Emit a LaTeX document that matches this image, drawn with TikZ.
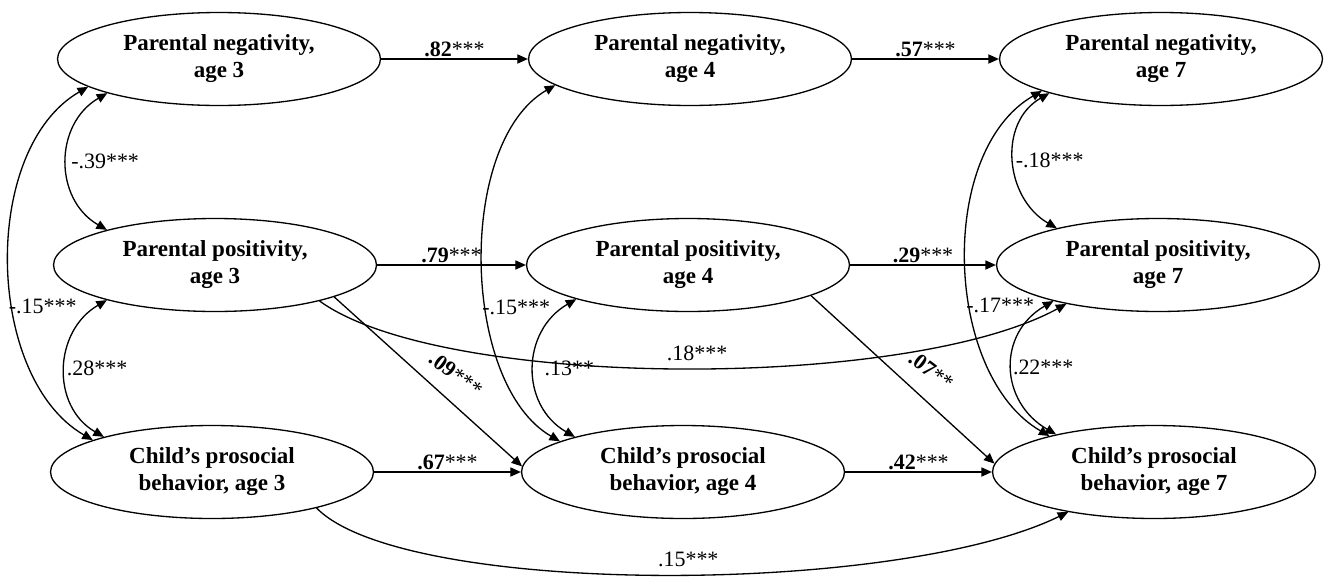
\documentclass[tikz,border=0pt]{standalone}
\usepackage{fontspec}
\setmainfont{Liberation Serif}
\usetikzlibrary{arrows.meta,shapes.geometric}
\begin{document}
\begin{tikzpicture}[x=0.02cm,y=-0.02cm,
  var/.style={draw,ellipse,line width=0.75pt,minimum width=6.46cm,minimum height=1.86cm,inner sep=0pt,align=center,font=\fontsize{13.1}{15.4}\selectfont\bfseries},
  arr/.style={line width=0.75pt,-{Triangle[length=6pt,width=5.2pt]}},
  darr/.style={line width=0.75pt,{Triangle[length=6pt,width=5.2pt]}-{Triangle[length=6pt,width=5.2pt]}},
  lab/.style={font=\fontsize{12.5}{15}\selectfont,inner sep=0pt},
]
\useasboundingbox (0,0) rectangle (1327,578);
% nodes
\node[var] (N3) at (219,59) {Parental negativity,\\age 3};
\node[var] (N4) at (690,59) {Parental negativity,\\age 4};
\node[var] (N7) at (1161,59) {Parental negativity,\\age 7};
\node[var] (P3) at (215,265) {Parental positivity,\\age 3};
\node[var] (P4) at (688,265) {Parental positivity,\\age 4};
\node[var] (P7) at (1158,265) {Parental positivity,\\age 7};
\node[var] (C3) at (212,472) {Child’s prosocial\\behavior, age 3};
\node[var] (C4) at (683,472) {Child’s prosocial\\behavior, age 4};
\node[var] (C7) at (1154,472) {Child’s prosocial\\behavior, age 7};
% stability paths
\draw[arr] (N3) -- node[lab,above=1pt]{\textbf{.82}***} (N4);
\draw[arr] (P3) -- node[lab,above=1pt]{\textbf{.79}***} (P4);
\draw[arr] (C3) -- node[lab,above=1pt]{\textbf{.67}***} (C4);
\draw[arr] (N4) -- node[lab,above=1pt]{\textbf{.57}***} (N7);
\draw[arr] (P4) -- node[lab,above=1pt]{\textbf{.29}***} (P7);
\draw[arr] (C4) -- node[lab,above=1pt]{\textbf{.42}***} (C7);
% cross-lagged diagonals
\draw[arr] (P3.345) -- node[lab,pos=.57,rotate=-37,anchor=south,outer sep=9.5pt]{\textbf{.09}***} (C4.178);
\draw[arr] (P4.346) -- node[lab,pos=.57,rotate=-37,anchor=south,outer sep=10.5pt]{\textbf{.07}**} (C7.177);
% long curves
\draw[arr] (P3.341) .. controls +(-36:3.02cm) and +(208.6:3.64cm) .. node[lab,pos=.52,above=4pt]{.18***} (P7.203);
\draw[arr] (C3.341) .. controls +(-45.7:2.48cm) and +(206:3.84cm) .. node[lab,pos=.53,above=4pt]{.15***} (C7.205);
% correlations age 3
\draw[darr] (N3.197) to[out=210,in=150,looseness=1.15] node[lab,pos=.5,anchor=west,inner sep=2pt]{-.39***} (P3.162);
\draw[darr] (P3.198) to[out=210,in=150,looseness=1.15] node[lab,pos=.5,anchor=west,inner sep=.5pt]{.28***} (C3.162);
\draw[darr] (N3.192) to[out=210,in=150,looseness=0.9] node[lab,pos=.6,anchor=west,xshift=-3pt]{-.15***} (C3.165);
% correlations age 4
\draw[darr] (N4.191) to[out=210,in=150,looseness=0.82] node[lab,pos=.6,anchor=west,xshift=-3pt]{-.15***} (C4.166);
\draw[darr] (P4.197) to[out=210,in=150,looseness=1.18] node[lab,pos=.5,anchor=west,xshift=5.5pt]{.13**} (C4.162);
% correlations age 7
\draw[darr] (N7.197) to[out=210,in=150,looseness=1.13] node[lab,pos=.5,anchor=west,inner sep=.5pt]{-.18***} (P7.160);
\draw[darr] (P7.199) to[out=210,in=150,looseness=1.25] node[lab,pos=.5,anchor=west]{.22***} (C7.159);
\draw[darr] (N7.195) to[out=210,in=150,looseness=0.9] node[lab,pos=.6,anchor=west,xshift=-3pt]{-.17***} (C7.161);
\end{tikzpicture}
\end{document}
